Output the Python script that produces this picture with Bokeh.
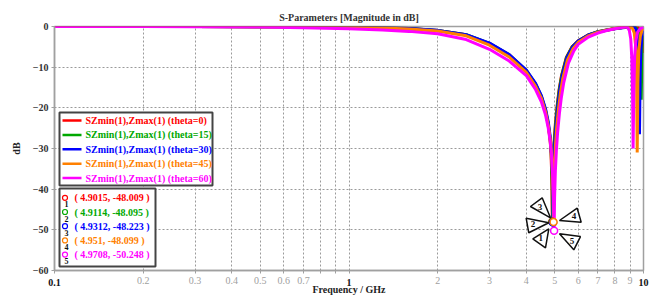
from bokeh.plotting import figure
from bokeh.models import Range1d, FixedTicker, LogAxis
from bokeh.core.properties import value
from bokeh.embed import file_html
from bokeh.resources import INLINE
import math

# ---------------- data ----------------
f_red = [0.1, 0.2, 0.3, 0.5, 0.7, 1.0, 1.3, 1.6, 2.0, 2.5, 3.0, 3.5, 4.0, 4.3, 4.5, 4.65, 4.75, 4.82, 4.85, 4.875, 4.89, 4.9015, 4.915, 4.94, 4.97, 5.02, 5.09, 5.17, 5.27, 5.47, 5.72, 6.0, 6.5, 7.0, 7.5, 8.0, 8.5, 9.0, 9.4, 9.6, 9.75, 9.88, 10.0]
db_red = [0.0, -0.01, -0.02, -0.05, -0.08, -0.16, -0.31, -0.52, -0.98, -2.05, -4.2, -7.0, -10.9, -14.3, -17.4, -20.9, -24.3, -28.0, -31.0, -35.5, -40.5, -48.009, -39.5, -33.5, -28.5, -24.0, -19.5, -15.5, -12.0, -7.6, -5.0, -3.5, -2.05, -1.3, -0.85, -0.5, -0.25, -0.08, 0.0, -0.3, -1.2, -3.0, -6.5]

f_green = [0.1, 0.2, 0.3, 0.5, 0.7, 1.0, 1.3, 1.6, 2.0, 2.5, 3.0, 3.5, 4.0, 4.3, 4.5, 4.65, 4.75, 4.82, 4.86, 4.885, 4.9, 4.9114, 4.925, 4.95, 4.98, 5.03, 5.1, 5.18, 5.28, 5.48, 5.73, 6.0, 6.5, 7.0, 7.5, 8.0, 8.5, 9.0, 9.35, 9.55, 9.67, 9.76, 9.82, 9.87, 9.93, 10.0]
db_green = [0.0, -0.01, -0.02, -0.05, -0.08, -0.15, -0.3, -0.51, -0.97, -2.02, -4.15, -6.95, -10.8, -14.1, -17.2, -20.6, -24.0, -27.6, -31.0, -35.5, -40.5, -48.095, -39.5, -33.5, -28.5, -24.0, -19.5, -15.5, -12.0, -7.6, -5.0, -3.55, -2.1, -1.3, -0.85, -0.5, -0.25, -0.08, 0.0, -0.8, -2.6, -7.0, -18.0, -9.0, -4.0, -2.2]

f_blue = [0.1, 0.2, 0.3, 0.5, 0.7, 1.0, 1.3, 1.6, 2.0, 2.5, 3.0, 3.5, 4.0, 4.3, 4.5, 4.65, 4.75, 4.82, 4.87, 4.9, 4.92, 4.9312, 4.945, 4.97, 5.0, 5.05, 5.12, 5.2, 5.3, 5.5, 5.75, 6.0, 6.5, 7.0, 7.5, 8.0, 8.5, 9.0, 9.3, 9.45, 9.57, 9.64, 9.69, 9.74, 9.8, 9.9, 10.0]
db_blue = [0.0, -0.01, -0.02, -0.05, -0.08, -0.15, -0.3, -0.5, -0.95, -2.0, -4.1, -6.9, -10.7, -14.0, -17.0, -20.3, -23.5, -27.0, -31.0, -35.0, -40.5, -48.223, -39.5, -33.5, -28.5, -24.0, -19.5, -15.5, -12.0, -7.6, -5.0, -3.6, -2.1, -1.35, -0.9, -0.55, -0.3, -0.1, -0.02, -0.8, -4.0, -11.0, -26.5, -12.0, -5.5, -2.2, -1.0]

f_orange = [0.1, 0.2, 0.3, 0.5, 0.7, 1.0, 1.3, 1.6, 2.0, 2.5, 3.0, 3.5, 4.0, 4.3, 4.5, 4.65, 4.75, 4.82, 4.87, 4.905, 4.93, 4.951, 4.965, 4.99, 5.02, 5.07, 5.14, 5.22, 5.32, 5.52, 5.77, 6.0, 6.5, 7.0, 7.5, 8.0, 8.5, 8.9, 9.15, 9.3, 9.41, 9.47, 9.52, 9.57, 9.64, 9.75, 9.88, 10.0]
db_orange = [0.0, -0.01, -0.03, -0.07, -0.11, -0.2, -0.38, -0.62, -1.12, -2.3, -4.6, -7.5, -11.3, -14.7, -17.7, -21.0, -24.3, -27.6, -31.0, -35.5, -40.5, -48.099, -40.0, -34.0, -29.5, -25.0, -20.5, -16.5, -12.8, -8.2, -5.4, -3.9, -2.3, -1.4, -0.9, -0.5, -0.2, -0.05, -0.3, -1.5, -5.0, -12.0, -31.0, -14.0, -6.0, -2.5, -1.0, -0.5]

f_magenta = [0.1, 0.2, 0.3, 0.5, 0.7, 1.0, 1.3, 1.6, 2.0, 2.5, 3.0, 3.5, 4.0, 4.3, 4.5, 4.65, 4.75, 4.82, 4.87, 4.91, 4.945, 4.9708, 4.99, 5.02, 5.06, 5.11, 5.18, 5.26, 5.36, 5.56, 5.8, 6.0, 6.5, 7.0, 7.5, 8.0, 8.5, 8.8, 8.95, 9.05, 9.13, 9.18, 9.22, 9.27, 9.33, 9.42, 9.55, 9.75, 10.0]
db_magenta = [0.0, -0.03, -0.08, -0.15, -0.28, -0.55, -0.85, -1.2, -1.8, -3.2, -5.6, -8.5, -12.1, -15.5, -18.5, -21.8, -25.0, -28.2, -31.5, -36.0, -42.0, -50.248, -42.0, -35.5, -30.5, -26.0, -21.5, -17.5, -13.8, -9.0, -6.0, -4.4, -2.6, -1.6, -1.0, -0.55, -0.2, -0.05, -1.0, -3.0, -8.0, -16.0, -30.0, -16.0, -7.5, -3.5, -1.4, -0.5, -0.2]

series_names = ["SZmin(1),Zmax(1) (theta=0)", "SZmin(1),Zmax(1) (theta=15)",
                "SZmin(1),Zmax(1) (theta=30)", "SZmin(1),Zmax(1) (theta=45)",
                "SZmin(1),Zmax(1) (theta=60)"]
series_colors = ["#ff0000", "#00a800", "#0000ff", "#ff8000", "#ff00ff"]

marker_ids = ["1", "2", "3", "4", "5"]
marker_freq = [4.9015, 4.9114, 4.9312, 4.951, 4.9708]
marker_db = [-48.009, -48.095, -48.223, -48.099, -50.248]

x_ticks = [0.1, 0.2, 0.3, 0.4, 0.5, 0.6, 0.7, 0.8, 0.9, 1.0, 2.0, 3.0, 4.0, 5.0, 6.0, 7.0, 8.0, 9.0, 10.0]
x_tick_labels = ["0.1", "0.2", "0.3", "0.4", "0.5", "0.6", "0.7", "", "", "1", "2", "3", "4", "5", "6", "7", "8", "9", "10"]
bold_x_ticks = [0.1, 1.0, 10.0]
bold_x_labels = ["0.1", "1", "10"]
y_ticks = [-60, -50, -40, -30, -20, -10, 0]

# ---------------- layout helpers (image pixels -> data) ----------------
FL, FT, FW, FH = 54, 26, 589, 244
X0, X1, Y0, Y1 = 0.1, 10.0, -60.0, 0.0
PXDEC = FW / (math.log10(X1) - math.log10(X0))
PXDB = FH / (Y1 - Y0)

def xd(px):
    return 10 ** ((px - FL) / PXDEC + math.log10(X0))

def yd(py):
    return Y1 - (py - FT) / PXDB

FONT = "Liberation Serif"
SERIF = value(FONT)

p = figure(frame_width=FW, frame_height=FH, x_axis_type="log",
           x_range=Range1d(X0, X1), y_range=Range1d(Y0, Y1),
           output_backend="svg", toolbar_location=None,
           min_border_left=FL, min_border_top=FT,
           min_border_right=12, min_border_bottom=2,
           background_fill_color="white", border_fill_color="white")
p.outline_line_color = "#a0a0a0"
p.outline_line_width = 1.5

p.title.text = "S-Parameters [Magnitude in dB]"
p.title.align = "center"
p.title.text_font = FONT
p.title.text_font_style = "bold"
p.title.text_font_size = "10px"
p.title.text_color = "#333333"
p.title.standoff = 8

# inner x axis: grey labels
xa = p.xaxis[0]
xa.ticker = FixedTicker(ticks=x_ticks)
xa.major_label_overrides = {t: ("" if t in bold_x_ticks else l) for t, l in zip(x_ticks, x_tick_labels)}
xa.major_label_text_font = FONT
xa.major_label_text_font_size = "10px"
xa.major_label_text_color = "#a0a0a0"
xa.major_label_standoff = 3
xa.major_tick_out = 3
xa.major_tick_in = 0
xa.minor_tick_out = 0
xa.minor_tick_in = 0
xa.axis_line_color = "#a0a0a0"
xa.axis_line_width = 1.5
xa.major_tick_line_color = "#a0a0a0"

# outer x axis: bold black decade labels pulled up into the same row + axis title
xb = LogAxis(ticker=FixedTicker(ticks=bold_x_ticks),
             major_label_overrides={t: l for t, l in zip(bold_x_ticks, bold_x_labels)})
xb.axis_line_color = None
xb.major_tick_line_color = None
xb.minor_tick_line_color = None
xb.major_tick_out = 0
xb.major_tick_in = 0
xb.minor_tick_out = 0
xb.minor_tick_in = 0
xb.major_label_text_font = FONT
xb.major_label_text_font_style = "bold"
xb.major_label_text_font_size = "10px"
xb.major_label_text_color = "#111111"
xb.major_label_standoff = -8
xb.axis_label = "Frequency / GHz"
xb.axis_label_text_font = FONT
xb.axis_label_text_font_style = "bold"
xb.axis_label_text_font_size = "10px"
xb.axis_label_text_color = "#222222"
xb.axis_label_standoff = -5
p.add_layout(xb, "below")

ya = p.yaxis[0]
ya.ticker = FixedTicker(ticks=y_ticks)
ya.major_label_text_font = FONT
ya.major_label_text_font_style = "bold"
ya.major_label_text_font_size = "10px"
ya.major_label_text_color = "#333333"
ya.major_label_standoff = 3
ya.major_tick_out = 3
ya.major_tick_in = 0
ya.minor_tick_out = 0
ya.minor_tick_in = 0
ya.axis_line_color = "#a0a0a0"
ya.axis_line_width = 1.5
ya.major_tick_line_color = "#a0a0a0"
ya.axis_label = "dB"
ya.axis_label_text_font = FONT
ya.axis_label_text_font_style = "bold"
ya.axis_label_text_font_size = "10px"
ya.axis_label_text_color = "#222222"
ya.axis_label_standoff = 8

for g in (p.xgrid, p.ygrid):
    g.grid_line_color = "#9a9a9a"
    g.grid_line_dash = "2 2"
    g.grid_line_width = 1

# curves
all_f = [f_red, f_green, f_blue, f_orange, f_magenta]
all_db = [db_red, db_green, db_blue, db_orange, db_magenta]
for fs, ds, c in zip(all_f, all_db, series_colors):
    p.line(fs, ds, line_color=c, line_width=3)

# marker circles
p.scatter(marker_freq, marker_db, marker="circle", size=7, fill_color="white",
          line_color=series_colors, line_width=1.5)

# callout triangles (pixel offsets from each marker)
tri_offsets = [
    [(-3.5, 7.1), (-6.8, 26.1), (-19.5, 17.1)],
    [(-3.8, 0.7), (-26.4, -3.9), (-23.8, 10.7)],
    [(-2.6, -4.8), (-22.6, -16.1), (-10.9, -24.8)],
    [(5.9, -1.6), (23.6, -13.9), (27.6, 0.1)],
    [(5.4, 3.0), (26.4, 5.7), (19.7, 19.0)],
]
lab_offsets = [(-11.5, 16.5), (-19.5, 1.5), (-13.0, -16.0), (20.5, -6.0), (18.0, 10.0)]
txs, tys, lx, ly = [], [], [], []
for f0, d0, offs, lo in zip(marker_freq, marker_db, tri_offsets, lab_offsets):
    txs.append([f0 * 10 ** (dx / PXDEC) for dx, dy in offs])
    tys.append([d0 - dy / PXDB for dx, dy in offs])
    lx.append(f0 * 10 ** (lo[0] / PXDEC))
    ly.append(d0 - lo[1] / PXDB)
p.patches(txs, tys, fill_color="white", line_color="#111111", line_width=1.5)
p.text(lx, ly, text=marker_ids, text_align="center", text_baseline="middle",
       text_font=SERIF, text_font_style="bold", text_font_size="9px", text_color="#111111")

# legend box
p.quad(left=[xd(59)], right=[xd(212)], top=[yd(112)], bottom=[yd(185)],
       fill_color="white", line_color="#444444", line_width=2)
rows = [120 + 14.4 * i for i in range(5)]
p.segment(x0=[xd(62)] * 5, x1=[xd(81)] * 5, y0=[yd(r) for r in rows], y1=[yd(r) for r in rows],
          line_color=series_colors, line_width=2.5)
p.text([xd(85)] * 5, [yd(r) for r in rows], text=series_names, text_color=series_colors,
       text_baseline="middle", text_font=SERIF, text_font_style="bold", text_font_size="10px")

# marker readout box
p.quad(left=[xd(59)], right=[xd(155)], top=[yd(188)], bottom=[yd(266)],
       fill_color="white", line_color="#444444", line_width=2)
mrows = [197.3 + 14.2 * i for i in range(5)]
p.scatter([xd(64.5)] * 5, [yd(r) for r in mrows], marker="circle", size=5, fill_color="white",
          line_color=series_colors, line_width=1.2)
p.text([xd(66)] * 5, [yd(r + 6.5) for r in mrows], text=marker_ids, text_align="center",
       text_baseline="middle", text_font=SERIF, text_font_style="bold", text_font_size="8px",
       text_color="#111111")
readouts = ["( %s, %s )" % (("%g" % f), ("%.3f" % d)) for f, d in zip(marker_freq, marker_db)]
p.text([xd(74)] * 5, [yd(r) for r in mrows], text=readouts, text_color=series_colors,
       text_baseline="middle", text_font=SERIF, text_font_style="bold", text_font_size="10px")

open("out.html", "w").write(file_html(p, INLINE))
